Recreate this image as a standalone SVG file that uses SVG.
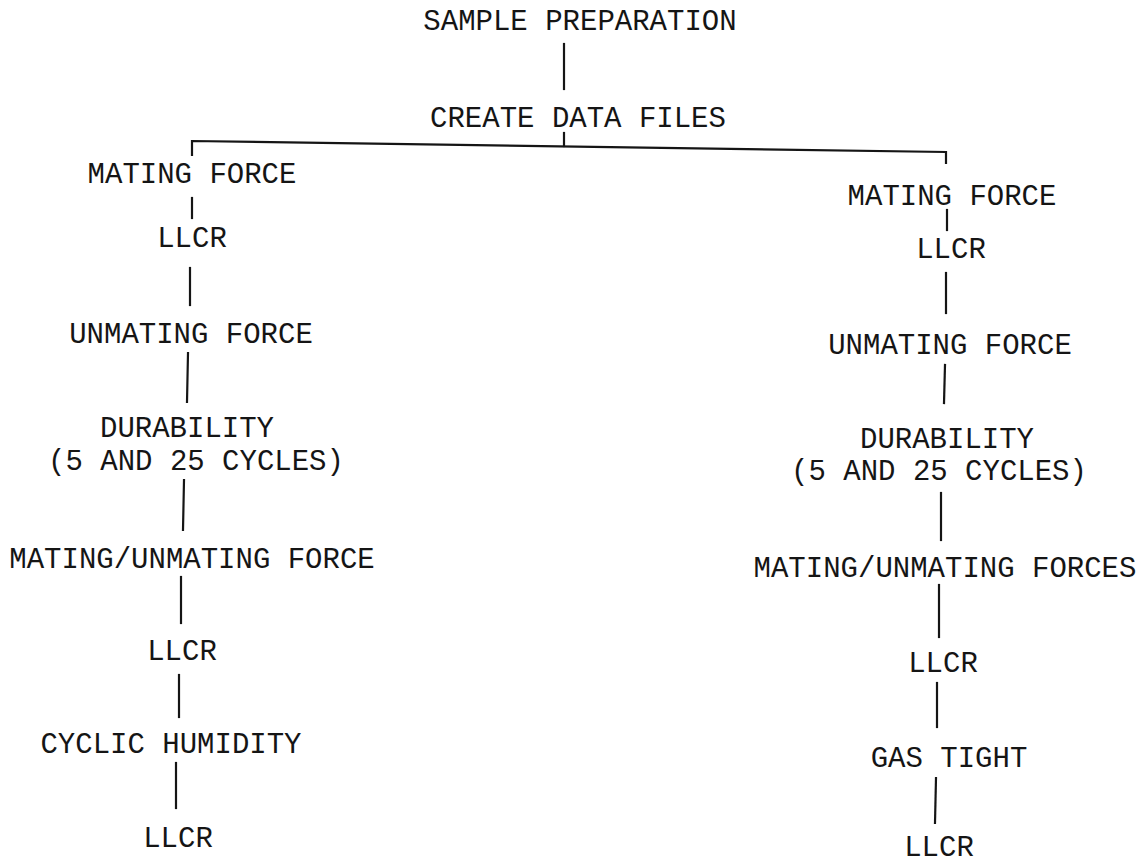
<svg xmlns="http://www.w3.org/2000/svg" width="1143" height="863" viewBox="0 0 1143 863">
<style>
text{font-family:"Liberation Mono","Courier New",monospace;font-size:29px;fill:#151515;text-anchor:middle}
.c line,.c polyline{stroke:#151515;stroke-width:2.2;fill:none;stroke-linecap:square}
</style>
<rect width="1143" height="863" fill="#fff"/>
<g class="c" id="connectors">
<line x1="564" y1="44" x2="564" y2="89"/>
<line x1="564" y1="133" x2="564" y2="146"/>
<polyline points="192,155 192,141 946,152 946,163"/>
<line x1="192" y1="198" x2="192" y2="218"/>
<line x1="190" y1="268" x2="190" y2="305"/>
<line x1="188" y1="353" x2="187" y2="402"/>
<line x1="184" y1="480" x2="183" y2="530"/>
<line x1="181" y1="577" x2="181" y2="623"/>
<line x1="179" y1="675" x2="179" y2="717"/>
<line x1="176" y1="763" x2="176" y2="808"/>
<line x1="947" y1="210" x2="947" y2="230"/>
<line x1="946" y1="273" x2="946" y2="313"/>
<line x1="945" y1="365" x2="944" y2="403"/>
<line x1="941" y1="493" x2="941" y2="540"/>
<line x1="939" y1="585" x2="939" y2="637"/>
<line x1="937" y1="683" x2="937" y2="727"/>
<line x1="936" y1="778" x2="935" y2="823"/>
</g>
<g id="n_sample"><text x="580" y="30">SAMPLE PREPARATION</text></g>
<g id="n_create"><text x="578" y="127">CREATE DATA FILES</text></g>
<g id="l_mating"><text x="192" y="183">MATING FORCE</text></g>
<g id="l_llcr1"><text x="192" y="247">LLCR</text></g>
<g id="l_unmating"><text x="191" y="343">UNMATING FORCE</text></g>
<g id="l_durability"><text x="187" y="437">DURABILITY</text><text x="196" y="470">(5 AND 25 CYCLES)</text></g>
<g id="l_matunmat"><text x="192" y="568">MATING/UNMATING FORCE</text></g>
<g id="l_llcr2"><text x="182" y="660">LLCR</text></g>
<g id="l_humidity"><text x="171" y="753">CYCLIC HUMIDITY</text></g>
<g id="l_llcr3"><text x="178" y="847">LLCR</text></g>
<g id="r_mating"><text x="952" y="205">MATING FORCE</text></g>
<g id="r_llcr1"><text x="951" y="258">LLCR</text></g>
<g id="r_unmating"><text x="950" y="354">UNMATING FORCE</text></g>
<g id="r_durability"><text x="947" y="448">DURABILITY</text><text x="939" y="480">(5 AND 25 CYCLES)</text></g>
<g id="r_matunmat"><text x="945" y="577">MATING/UNMATING FORCES</text></g>
<g id="r_llcr2"><text x="943" y="672">LLCR</text></g>
<g id="r_gastight"><text x="949" y="767">GAS TIGHT</text></g>
<g id="r_llcr3"><text x="939" y="856">LLCR</text></g>
</svg>
